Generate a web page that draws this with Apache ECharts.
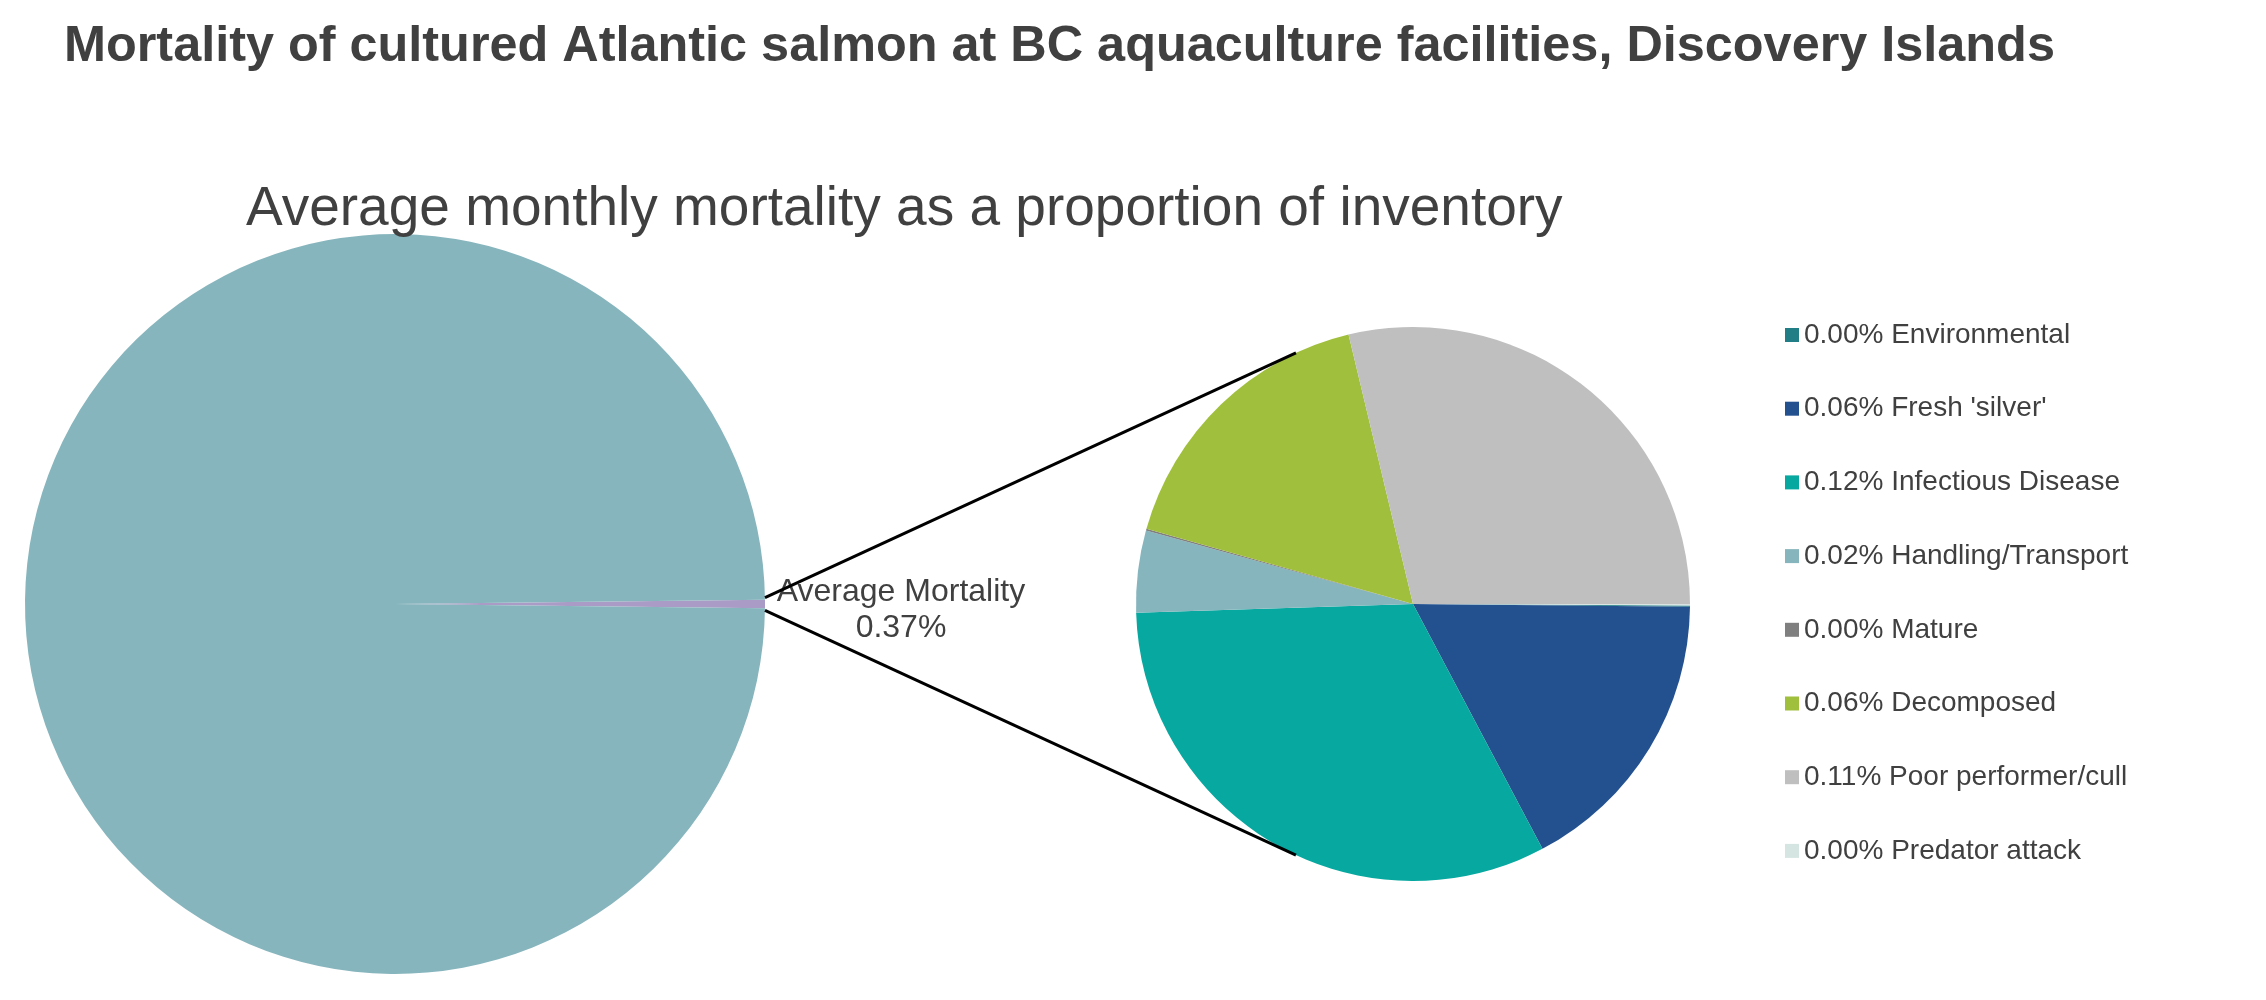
<!DOCTYPE html>
<html>
<head>
<meta charset="utf-8">
<title>Mortality of cultured Atlantic salmon</title>
<script src="https://cdn.jsdelivr.net/npm/echarts@6/dist/echarts.min.js"></script>
<style>
  html, body { margin: 0; padding: 0; background: #fff; }
  #main { width: 2266px; height: 1000px; }
</style>
</head>
<body>
<div id="main"></div>
<script>
// mortality causes, % of inventory per month (second pie)
var causes = ['Environmental', "Fresh 'silver'", 'Infectious Disease', 'Handling/Transport',
              'Mature', 'Decomposed', 'Poor performer/cull', 'Predator attack'];
var causeValues = [0.0003, 0.0634, 0.1196, 0.0177, 0.0004, 0.0626, 0.1067, 0.0002];
var causeColors = ['#217E87', '#23518F', '#07A8A0', '#87B5BD', '#7F7F7F', '#A0BF3C', '#BFBFBF', '#D5E6E2'];

// first pie: surviving inventory vs. average mortality
var survivingPct = 99.63;
var mortalityName = 'Average Mortality';

var txt = '#404040';
var font = "'Liberation Sans', Arial, sans-serif";

// layout
var bigC = [395, 604], bigR = 370;
var smallC = [1413, 604], smallR = 277;

var mortalityPct = 0;
for (var i = 0; i < causeValues.length; i++) mortalityPct += causeValues[i];

// the mortality slice points to the right, centred on 0 deg
var halfAngle = mortalityPct / (mortalityPct + survivingPct) * 180;

var causeData = [];
for (var j = 0; j < causes.length; j++) {
    causeData.push({ name: causes[j], value: causeValues[j], itemStyle: { color: causeColors[j] } });
}

// connector lines from the mortality slice tip to the second pie
var rad = Math.PI / 180;
var tipUp = [bigC[0] + bigR * Math.cos(halfAngle * rad), bigC[1] - bigR * Math.sin(halfAngle * rad) - 2];
var tipDn = [bigC[0] + bigR * Math.cos(halfAngle * rad), bigC[1] + bigR * Math.sin(halfAngle * rad) + 2];
var endAng = 115 * rad;
var endUp = [smallC[0] + smallR * Math.cos(endAng), smallC[1] - smallR * Math.sin(endAng)];
var endDn = [smallC[0] + smallR * Math.cos(endAng), smallC[1] + smallR * Math.sin(endAng)];

var myChart = echarts.init(document.getElementById('main'));
var option = {
    animation: false,
    backgroundColor: '#fff',
    textStyle: { fontFamily: font },
    title: [
        {
            text: 'Mortality of cultured Atlantic salmon at BC aquaculture facilities, Discovery Islands',
            left: 64, top: 22, padding: 0,
            textStyle: { fontSize: 50.4, fontWeight: 'bold', color: txt, fontFamily: font, lineHeight: 50 }
        },
        {
            text: 'Average monthly mortality as a proportion of inventory',
            left: 246, top: 182, padding: 0,
            textStyle: { fontSize: 55, fontWeight: 'normal', color: txt, fontFamily: font, lineHeight: 55 }
        }
    ],
    legend: {
        orient: 'vertical',
        left: 1785, top: 319,
        padding: 0,
        itemWidth: 14, itemHeight: 14,
        itemGap: 41.7,
        icon: 'rect',
        selectedMode: false,
        data: causes,
        formatter: function (name) {
            var k = causes.indexOf(name);
            return causeValues[k].toFixed(2) + '% ' + name;
        },
        textStyle: { fontSize: 28, lineHeight: 32, color: txt, fontFamily: font }
    },
    series: [
        {
            type: 'pie',
            center: bigC,
            radius: bigR,
            startAngle: halfAngle,
            clockwise: true,
            avoidLabelOverlap: false,
            silent: true,
            itemStyle: { borderWidth: 0 },
            labelLine: { show: false, length: 0, length2: 6 },
            data: [
                {
                    name: mortalityName, value: mortalityPct,
                    itemStyle: { color: '#A99BC5' },
                    label: {
                        show: true, position: 'outside', distanceToLabelLine: 5,
                        padding: [12, 0, 0, 0],
                        formatter: function (p) {
                            return '{a|' + p.name + '}\n{a|' + p.value.toFixed(2) + '%}';
                        },
                        rich: { a: { fontSize: 32, lineHeight: 36, width: 250, align: 'center', color: txt, fontFamily: font } }
                    }
                },
                { name: 'Surviving', value: survivingPct, itemStyle: { color: '#87B5BD' }, label: { show: false } }
            ]
        },
        {
            type: 'pie',
            center: smallC,
            radius: smallR,
            startAngle: -0.3,
            clockwise: true,
            silent: true,
            itemStyle: { borderWidth: 0 },
            label: { show: false },
            labelLine: { show: false },
            data: causeData
        }
    ],
    graphic: [
        { type: 'line', shape: { x1: tipUp[0], y1: tipUp[1], x2: endUp[0], y2: endUp[1] }, style: { stroke: '#000', lineWidth: 3 }, z: 10 },
        { type: 'line', shape: { x1: tipDn[0], y1: tipDn[1], x2: endDn[0], y2: endDn[1] }, style: { stroke: '#000', lineWidth: 3 }, z: 10 }
    ]
};
myChart.setOption(option);
</script>
</body>
</html>
